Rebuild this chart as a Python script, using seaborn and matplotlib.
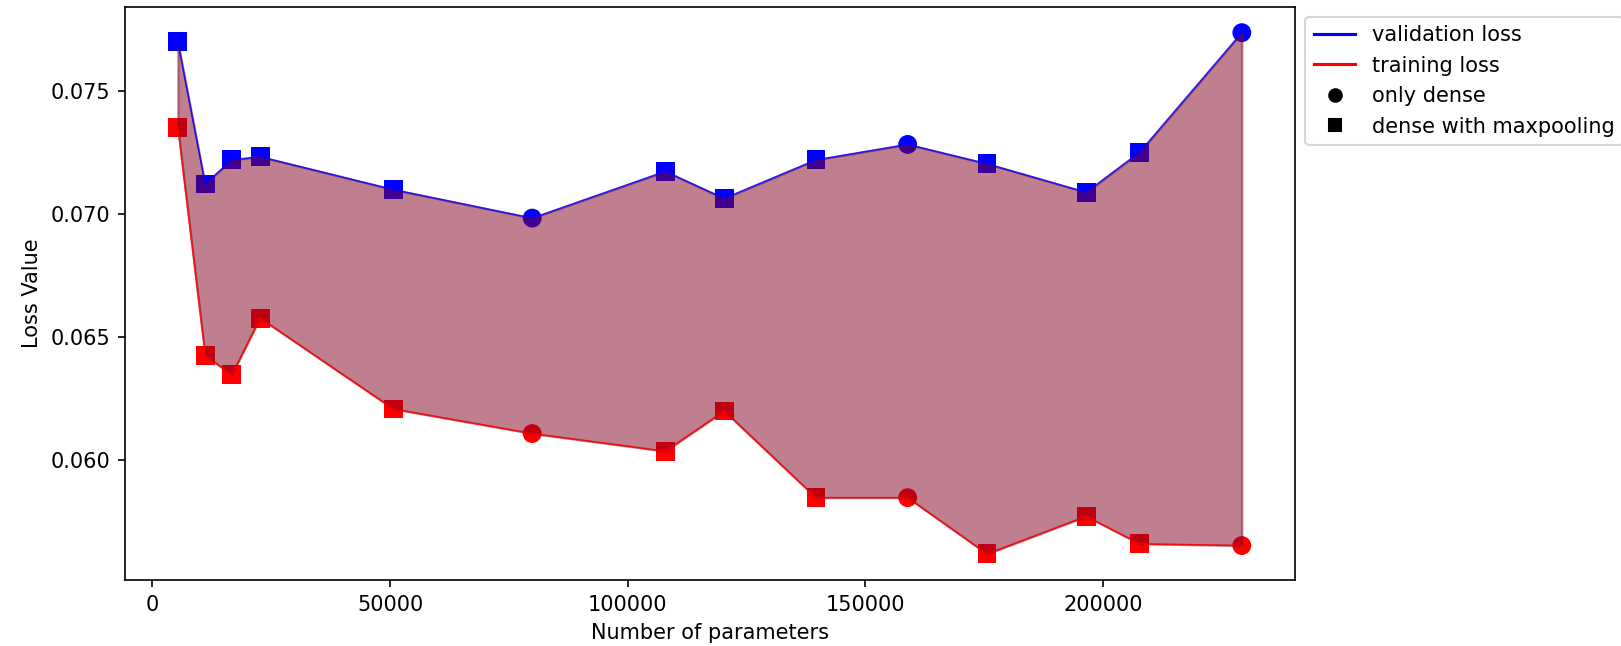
import matplotlib
matplotlib.use("Agg")
import matplotlib.pyplot as plt
from matplotlib.lines import Line2D
import seaborn as sns
import pandas as pd

# Model sizes and final losses
n_params = [5350, 11100, 16700, 22650, 50700, 79900, 107900, 120300,
            139600, 158900, 175600, 196450, 207700, 229200]
val_loss = [0.07701, 0.07122, 0.07220, 0.07233, 0.07099, 0.06983, 0.07173,
            0.07063, 0.07220, 0.07283, 0.07204, 0.07088, 0.07251, 0.07738]
train_loss = [0.07353, 0.06424, 0.06345, 0.06576, 0.06206, 0.06106, 0.06034,
              0.06198, 0.05845, 0.05845, 0.05616, 0.05769, 0.05657, 0.05650]
arch = ["dense with maxpooling", "dense with maxpooling", "dense with maxpooling",
        "dense with maxpooling", "dense with maxpooling", "only dense",
        "dense with maxpooling", "dense with maxpooling", "dense with maxpooling",
        "only dense", "dense with maxpooling", "dense with maxpooling",
        "dense with maxpooling", "only dense"]

df = pd.DataFrame({"params": n_params, "val": val_loss,
                   "train": train_loss, "arch": arch})
marker_map = {"only dense": "o", "dense with maxpooling": "s"}

dpi = 150
fig = plt.figure(figsize=(1621 / dpi, 646 / dpi), dpi=dpi)
ax = fig.add_axes([0.0769, 0.1022, 0.7220, 0.8876])

# markers first, then the band between the curves, then the curves on top
sns.scatterplot(data=df, x="params", y="val", style="arch", markers=marker_map,
                color="blue", s=82, linewidth=0, ax=ax, legend=False, zorder=2)
sns.scatterplot(data=df, x="params", y="train", style="arch", markers=marker_map,
                color="red", s=82, linewidth=0, ax=ax, legend=False, zorder=2)

ax.fill_between(df["params"], df["val"], df["train"], color="#800020",
                alpha=0.5, zorder=3)

sns.lineplot(data=df, x="params", y="val", color="blue", linewidth=0.8,
             alpha=0.8, estimator=None, ax=ax, legend=False, zorder=4)
sns.lineplot(data=df, x="params", y="train", color="red", linewidth=0.8,
             alpha=0.8, estimator=None, ax=ax, legend=False, zorder=4)

ax.set_xlabel("Number of parameters")
ax.set_ylabel("Loss Value")
ax.set_xticks([0, 50000, 100000, 150000, 200000])
ax.set_yticks([0.060, 0.065, 0.070, 0.075])
ax.ticklabel_format(axis="x", style="plain", useOffset=False)

handles = [
    Line2D([], [], color="blue", label="validation loss"),
    Line2D([], [], color="red", label="training loss"),
    Line2D([], [], color="black", marker="o", linestyle="None", label="only dense"),
    Line2D([], [], color="black", marker="s", linestyle="None", label="dense with maxpooling"),
]
ax.legend(handles=handles, bbox_to_anchor=(1, 1), loc="upper left")

fig.savefig("out.png", dpi=dpi)
